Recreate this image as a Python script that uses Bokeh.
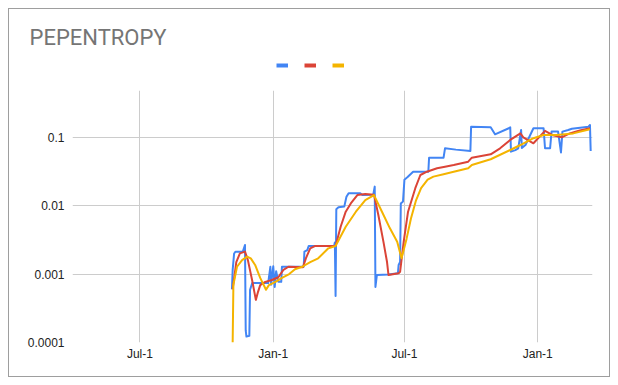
import pandas as pd
from bokeh.plotting import figure
from bokeh.layouts import column
from bokeh.models import (FixedTicker, CustomJSTickFormatter, Legend, LegendItem, Range1d, Label)
from bokeh.embed import file_html
from bokeh.resources import INLINE

# ---------------- data ----------------
title_text = "PEPENTROPY"
x_tick_dates = ["2022-07-01", "2023-01-01", "2023-07-01", "2024-01-01"]
y_ticks = [0.0001, 0.001, 0.01, 0.1]

blue_dates = ["2022-11-05", "2022-11-06", "2022-11-08", "2022-11-10", "2022-11-20", "2022-11-23",
              "2022-11-24", "2022-11-25", "2022-11-29", "2022-11-30", "2022-12-03", "2022-12-25",
              "2022-12-28", "2022-12-29", "2023-01-01", "2023-01-03", "2023-01-05", "2023-01-08",
              "2023-01-12", "2023-01-13", "2023-02-12", "2023-02-13", "2023-02-17", "2023-02-19",
              "2023-03-26", "2023-03-27", "2023-03-28", "2023-03-29", "2023-04-01", "2023-04-09",
              "2023-04-12", "2023-04-15", "2023-05-01", "2023-05-04", "2023-05-19", "2023-05-21",
              "2023-05-22", "2023-05-24", "2023-06-09", "2023-06-22", "2023-06-23", "2023-06-25",
              "2023-06-26", "2023-06-29", "2023-07-01", "2023-07-05", "2023-07-13", "2023-08-03",
              "2023-08-04", "2023-08-24", "2023-08-26", "2023-09-10", "2023-09-30", "2023-10-01",
              "2023-10-28", "2023-11-03", "2023-11-22", "2023-11-24", "2023-11-25", "2023-12-01",
              "2023-12-05", "2023-12-09", "2023-12-10", "2023-12-15", "2023-12-26", "2024-01-09",
              "2024-01-11", "2024-01-18", "2024-01-20", "2024-01-29", "2024-02-02", "2024-02-04",
              "2024-02-12", "2024-02-17", "2024-03-11", "2024-03-13", "2024-03-14"]
blue_values = [0.0006, 0.00115, 0.0020, 0.00213, 0.00213, 0.00266,
               0.00015, 0.000122, 0.000125, 0.00059, 0.00074, 0.00074,
               0.00128, 0.0007, 0.0013, 0.00065, 0.0011, 0.00077,
               0.00077, 0.00128, 0.00128, 0.00213, 0.00225, 0.00258,
               0.00258, 0.0029, 0.00048, 0.0089, 0.0095, 0.0097,
               0.0135, 0.0152, 0.0152, 0.0143, 0.0145, 0.019,
               0.00065, 0.00097, 0.00099, 0.00103, 0.00136, 0.0015,
               0.0108, 0.0115, 0.024, 0.026, 0.0314, 0.0314,
               0.0503, 0.0503, 0.069, 0.066, 0.063, 0.143,
               0.140, 0.1106, 0.1355, 0.140, 0.0616, 0.065,
               0.069, 0.128, 0.070, 0.0771, 0.1355, 0.1355,
               0.0691, 0.0691, 0.121, 0.121, 0.060, 0.121,
               0.128, 0.133, 0.143, 0.151, 0.063]

red_dates = ["2022-11-06", "2022-11-11", "2022-11-16", "2022-11-23", "2022-11-27", "2022-12-03",
             "2022-12-08", "2022-12-11", "2022-12-14", "2022-12-21", "2022-12-30", "2023-01-08",
             "2023-01-15", "2023-01-22", "2023-02-11", "2023-02-15", "2023-02-21", "2023-02-28",
             "2023-03-28", "2023-04-04", "2023-04-11", "2023-04-18", "2023-04-27", "2023-05-08",
             "2023-05-20", "2023-05-26", "2023-06-02", "2023-06-07", "2023-06-09", "2023-06-23",
             "2023-06-25", "2023-06-30", "2023-07-06", "2023-07-16", "2023-07-23", "2023-08-01",
             "2023-08-15", "2023-08-26", "2023-09-07", "2023-09-27", "2023-10-02", "2023-10-28",
             "2023-11-10", "2023-11-24", "2023-12-08", "2023-12-12", "2023-12-26", "2024-01-11",
             "2024-01-22", "2024-02-03", "2024-02-14", "2024-02-28", "2024-03-13"]
red_values = [0.0006, 0.0015, 0.00201, 0.00213, 0.0016, 0.0008,
              0.00042, 0.00055, 0.00069, 0.00077, 0.00082, 0.0009,
              0.00115, 0.00128, 0.00126, 0.0017, 0.00238, 0.00258,
              0.00258, 0.00493, 0.00817, 0.0108, 0.0143, 0.0148,
              0.0145, 0.00731, 0.00298, 0.0015, 0.00097, 0.00103,
              0.00108, 0.00298, 0.00817, 0.018, 0.0281, 0.0314,
              0.0352, 0.0372, 0.0393, 0.044, 0.0503, 0.0564,
              0.069, 0.0914, 0.114, 0.100, 0.0817, 0.124,
              0.107, 0.100, 0.114, 0.126, 0.1355]

yellow_dates = ["2022-11-06", "2022-11-07", "2022-11-12", "2022-11-19", "2022-11-26", "2022-12-01",
                "2022-12-07", "2022-12-14", "2022-12-22", "2022-12-26", "2023-01-04", "2023-01-13",
                "2023-01-23", "2023-01-31", "2023-02-10", "2023-02-21", "2023-03-04", "2023-03-18",
                "2023-03-28", "2023-04-11", "2023-04-25", "2023-05-08", "2023-05-20", "2023-05-31",
                "2023-06-11", "2023-06-21", "2023-06-27", "2023-07-04", "2023-07-10", "2023-07-17",
                "2023-07-24", "2023-08-02", "2023-08-10", "2023-08-24", "2023-09-07", "2023-09-27",
                "2023-10-02", "2023-10-28", "2023-11-24", "2023-12-08", "2023-12-26", "2024-01-09",
                "2024-01-27", "2024-02-19", "2024-03-13"]
yellow_values = [0.0001, 0.0007, 0.00128, 0.0016, 0.0018, 0.0017,
                 0.00136, 0.00088, 0.00059, 0.00069, 0.00077, 0.00088,
                 0.0010, 0.00118, 0.00128, 0.0015, 0.0017, 0.00238,
                 0.00258, 0.00493, 0.00817, 0.0121, 0.0143, 0.00817,
                 0.00467, 0.00298, 0.0017, 0.0033, 0.0065, 0.012,
                 0.018, 0.024, 0.0266, 0.0288, 0.0314, 0.0352,
                 0.0393, 0.0477, 0.0652, 0.0771, 0.097, 0.108,
                 0.108, 0.114, 0.131]

x_start = "2022-03-30"
x_end = "2024-03-16 12:00"
y_min, y_max = 0.0001, 0.483

# ---------------- style ----------------
BLUE, RED, YELLOW = "#4285F4", "#DB4437", "#F4B400"
GRID = "#cccccc"
W = 600
HEAD_H = 81
MAIN_H = 286

# ---- header: title + swatch legend ----
head = figure(width=W, height=HEAD_H, x_range=Range1d(0, 1), y_range=Range1d(0, 1),
              x_axis_location=None, y_axis_location=None, title=None,
              output_backend="svg", toolbar_location=None,
              min_border_left=0, min_border_right=0, min_border_top=0, min_border_bottom=0)
head.frame_align = False
head.outline_line_color = None
head.grid.visible = False
head.background_fill_color = "white"
head.border_fill_color = "white"

head.add_layout(Label(x=20, y=53, x_units="screen", y_units="screen", text=title_text,
                      text_font="Roboto", text_font_size="22px", text_color="#757575",
                      text_baseline="middle", text_align="left"))

dummies = [head.line(x=[float("nan")], y=[float("nan")], line_color=c, line_width=4)
           for c in (BLUE, RED, YELLOW)]
legend = Legend(items=[LegendItem(label=" ", renderers=[r]) for r in dummies],
                orientation="horizontal", location=(267, 20), padding=0, margin=0,
                spacing=0, glyph_width=12, glyph_height=10, label_standoff=0,
                label_width=16, label_text_font_size="8px",
                label_text_alpha=0, border_line_color=None, background_fill_alpha=0)
head.add_layout(legend)

# ---- main chart ----
p = figure(width=W, height=MAIN_H, x_axis_type="datetime", y_axis_type="log",
           x_range=Range1d(pd.Timestamp(x_start), pd.Timestamp(x_end)),
           y_range=Range1d(y_min, y_max), title=None,
           output_backend="svg", toolbar_location=None,
           min_border_left=63, min_border_right=17, min_border_top=0, min_border_bottom=34)
p.frame_align = False
p.outline_line_color = None
p.background_fill_color = "white"
p.border_fill_color = "white"

p.xaxis.ticker = FixedTicker(ticks=[pd.Timestamp(d).timestamp() * 1000 for d in x_tick_dates])
p.xaxis.formatter = CustomJSTickFormatter(code="""
const m = ["Jan","Feb","Mar","Apr","May","Jun","Jul","Aug","Sep","Oct","Nov","Dec"];
const d = new Date(tick);
return m[d.getUTCMonth()] + "-" + d.getUTCDate();
""")
p.yaxis.ticker = FixedTicker(ticks=y_ticks)
p.yaxis.formatter = CustomJSTickFormatter(code="return tick.toString();")

for ax in (p.xaxis, p.yaxis):
    ax.axis_line_color = None
    ax.major_tick_line_color = None
    ax.minor_tick_line_color = None
    ax.major_tick_out = 0
    ax.major_tick_in = 0
    ax.minor_tick_out = 0
    ax.minor_tick_in = 0
    ax.major_label_text_font = "Liberation Sans"
    ax.major_label_text_font_size = "12px"
    ax.major_label_text_color = "#222222"
p.yaxis.major_label_standoff = 8
p.xaxis.major_label_standoff = 4

p.xgrid.grid_line_color = GRID
p.ygrid.grid_line_color = GRID
p.xgrid.minor_grid_line_color = None
p.ygrid.minor_grid_line_color = None

for d, v, c in ((blue_dates, blue_values, BLUE), (red_dates, red_values, RED),
                (yellow_dates, yellow_values, YELLOW)):
    p.line(x=pd.to_datetime(d), y=v, line_color=c, line_width=2, line_join="round")

page = column(head, p, spacing=0)
page.styles = {"border": "1px solid #9e9e9e", "margin-left": "8px", "margin-top": "8px"}

open("out.html", "w").write(file_html(page, INLINE))
